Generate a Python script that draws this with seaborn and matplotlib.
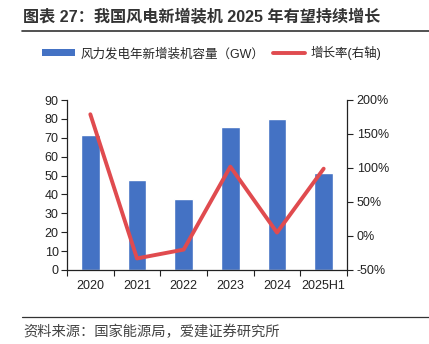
import matplotlib
matplotlib.use("Agg")
import matplotlib.pyplot as plt
import seaborn as sns
import pandas as pd
import numpy as np
from matplotlib.lines import Line2D
from matplotlib.patches import Patch

categories = ["2020", "2021", "2022", "2023", "2024", "2025H1"]
capacity_gw = [71.7, 47.6, 37.6, 75.9, 79.8, 51.4]
growth_pct = [179, -33, -20, 102, 5, 99]
left_ticks = [0, 10, 20, 30, 40, 50, 60, 70, 80, 90]
right_ticks = [-50, 0, 50, 100, 150, 200]

title = "图表 27：我国风电新增装机 2025 年有望持续增长"
bar_label = "风力发电年新增装机容量（GW）"
line_label = "增长率(右轴)"
source = "资料来源：国家能源局，爱建证券研究所"

sns.set_theme(style="white")
plt.rcParams['font.family'] = ['Liberation Sans', 'Noto Sans CJK SC', 'DejaVu Sans']
plt.rcParams['axes.unicode_minus'] = False

blue = "#4472C4"
red = "#E04B4F"

W, H = 429, 344
fig = plt.figure(figsize=(W/100, H/100), dpi=100)
fig.patch.set_facecolor("white")

ax = fig.add_axes([67/W, (H-270)/H, (347-67)/W, 170/H])
df = pd.DataFrame({"cat": categories, "cap": capacity_gw, "g": growth_pct, "pos": np.arange(len(categories))})
sns.barplot(data=df, x="cat", y="cap", color=blue, width=0.4, saturation=1, ax=ax)
ax.set_xlim(-0.5, len(categories) - 0.5)
ax.set_ylim(0, 90)
ax.set_yticks(left_ticks)
ax.set_xlabel("")
ax.set_ylabel("")
ax.set_xticks(np.arange(len(categories)))
ax.set_xticklabels(categories)
ax.set_xticks(np.arange(len(categories) + 1) - 0.5, minor=True)
ax.tick_params(axis="x", which="major", length=0, pad=7, labelsize=9, colors="#222222")
ax.tick_params(axis="x", which="minor", length=4, width=0.8, direction="out", color="#222222", bottom=True)
ax.tick_params(axis="y", length=4, width=0.8, direction="out", labelsize=9, pad=2, colors="#222222", left=True)
for s in ["top", "right"]:
    ax.spines[s].set_visible(False)
for s in ["left", "bottom"]:
    ax.spines[s].set_color("#222222")
    ax.spines[s].set_linewidth(0.9)

ax2 = ax.twinx()
sns.lineplot(data=df, x="pos", y="g", color=red, linewidth=2.8, ax=ax2, sort=False)
ax2.set_ylim(-50, 200)
ax2.set_yticks(right_ticks)
ax2.set_yticklabels([f"{t}%" for t in right_ticks])
ax2.set_ylabel("")
ax2.set_xlim(-0.5, len(categories) - 0.5)
ax2.tick_params(axis="y", length=4, width=0.8, direction="out", labelsize=9, pad=3, colors="#222222", right=True)
for s in ["top", "left", "bottom"]:
    ax2.spines[s].set_visible(False)
ax2.spines["right"].set_color("#222222")
ax2.spines["right"].set_linewidth(0.9)

handles = [Patch(facecolor=blue, edgecolor="none"),
           Line2D([0], [0], color=red, linewidth=2.8)]
fig.legend(handles, [bar_label, line_label], loc="center", bbox_to_anchor=(0.494, (H-53)/H),
           ncol=2, frameon=False, fontsize=9, handlelength=2.6, handleheight=0.55,
           handletextpad=0.45, columnspacing=0.7)

fig.text(23/W, (H-17.5)/H, title, fontsize=11.6, fontweight="bold", color="#333333", va="center", ha="left")
fig.add_artist(Line2D([22/W, 1.0], [(H-31)/H, (H-31)/H], color="#333333", linewidth=1.2))
fig.add_artist(Line2D([22/W, 1.0], [(H-317)/H, (H-317)/H], color="#333333", linewidth=0.9))
fig.text(23/W, (H-332)/H, source, fontsize=10.3, color="#444444", va="center", ha="left")

fig.savefig("out.png", dpi=100, facecolor="white")
